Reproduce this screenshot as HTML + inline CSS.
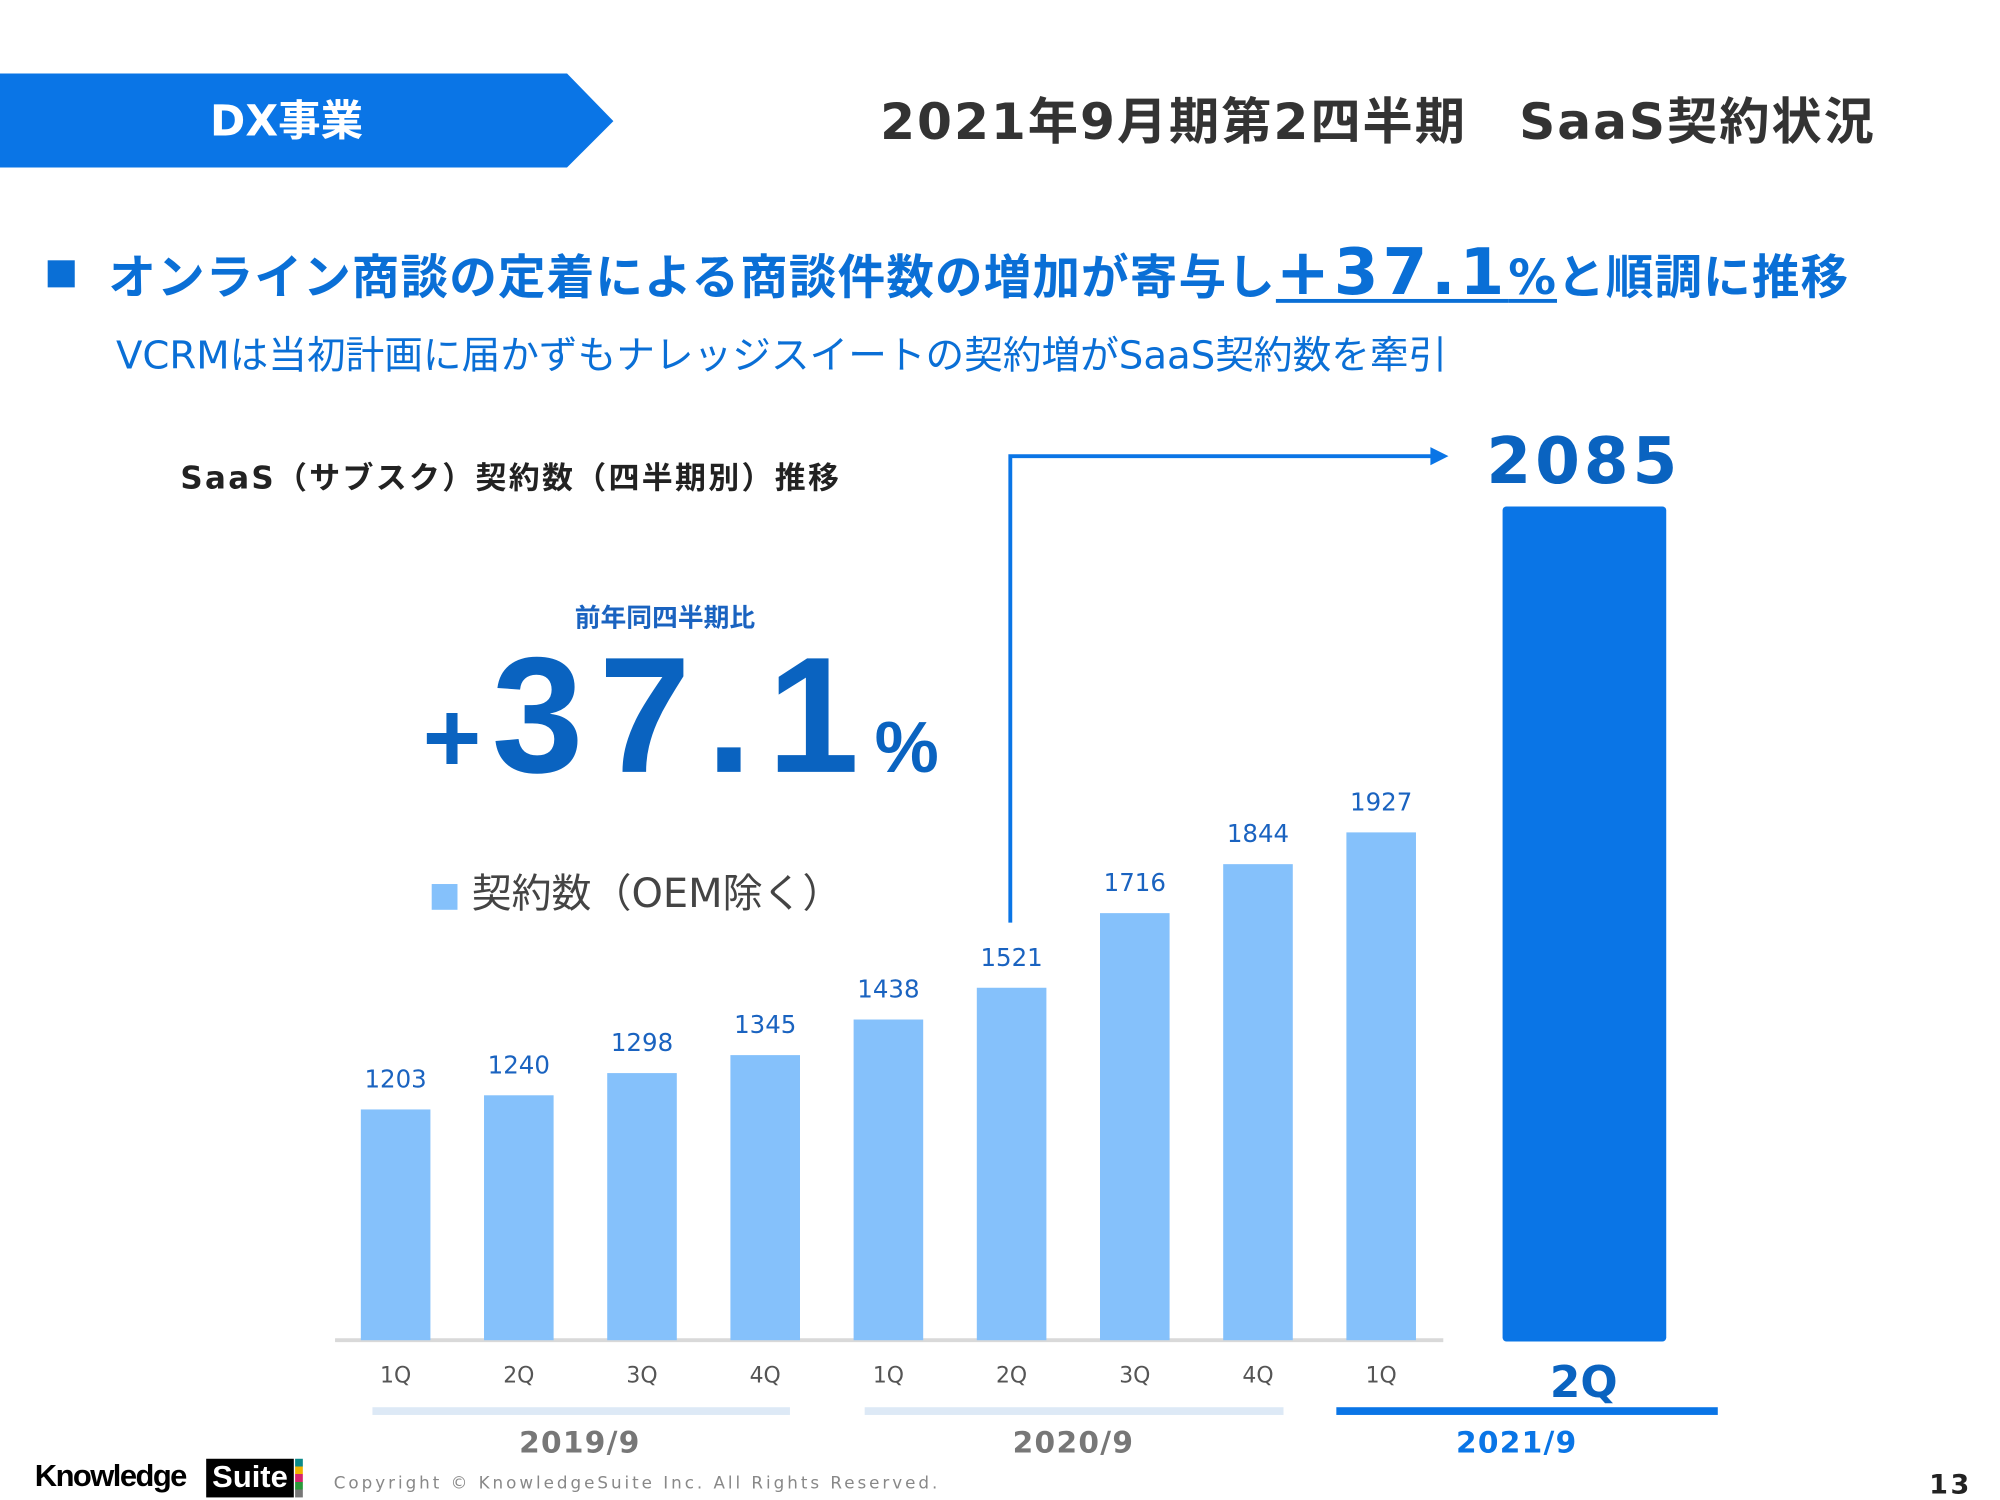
<!DOCTYPE html>
<html><head><meta charset="utf-8">
<style>
html,body{margin:0;padding:0;background:#fff;overflow:hidden}
body{width:2000px;height:1500px}
#s{position:absolute;left:0;top:0;width:1552px;height:1164px;transform:scale(1.28866);transform-origin:0 0;font-family:"DejaVu Sans","Noto Sans CJK JP",sans-serif}
.t{position:absolute;white-space:nowrap;line-height:1}
</style></head><body>
<div id="s">
<svg style="position:absolute;left:0;top:57px" width="480" height="74"><polygon points="0,0 440,0 476,37 440,73 0,73" fill="#0a75e6"/></svg>
<div class="t" style="left:163px;top:77px;font-size:33px;font-weight:bold;color:#fff">DX事業</div>
<div class="t" style="left:683px;top:76px;font-size:39px;font-weight:bold;color:#333;letter-spacing:1.5px">2021年9月期第2四半期　SaaS契約状況</div>
<div style="position:absolute;left:37px;top:202px;width:21px;height:21px;background:#0a6fd6"></div>
<div class="t" style="left:84px;top:186px;font-size:37px;font-weight:bold;color:#0a6fd6;letter-spacing:0.8px">オンライン商談の定着による商談件数の増加が寄与し<span style="text-decoration:underline;text-underline-offset:4px"><span style="font-size:50px;letter-spacing:3px">+37.1</span>%</span>と順調に推移</div>
<div class="t" style="left:90px;top:262px;font-size:30px;color:#0a6fd6">VCRMは当初計画に届かずもナレッジスイートの契約増がSaaS契約数を牽引</div>
<div class="t" style="left:140px;top:359px;font-size:24px;font-weight:bold;color:#222;letter-spacing:1.8px">SaaS（サブスク）契約数（四半期別）推移</div>
<div class="t" style="left:446px;top:469px;font-size:20px;font-weight:bold;color:#1a63c0">前年同四半期比</div>
<div class="t" style="left:328px;top:492px;font-weight:bold;color:#0a63c0;font-family:'Liberation Sans',sans-serif"><span style="font-size:78px;margin-right:8px">+</span><span style="font-size:128px;letter-spacing:12px">37.1</span><span style="font-size:56px">%</span></div>
<div style="position:absolute;left:335px;top:686px;width:20px;height:20px;background:#85c1fb"></div>
<div class="t" style="left:366px;top:679px;font-size:31px;color:#444">契約数（OEM除く）</div>
<svg id="chart" style="position:absolute;left:0;top:0" width="1552" height="1164"></svg>
<div class="t" style="left:27px;top:1134px;font-size:24px;font-weight:bold;color:#000;letter-spacing:-1.2px;font-family:'Liberation Sans',sans-serif">Knowledge</div>
<div class="t" style="left:160px;top:1132px;width:68px;height:30px;background:#000;color:#fff;font-size:24px;font-weight:bold;text-align:center;line-height:30px;font-family:'Liberation Sans',sans-serif">Suite</div>
<div style="position:absolute;left:229px;top:1132px;width:6px;height:30px;background:linear-gradient(#0b8a8a 0 20%,#f0b400 20% 40%,#d6246e 40% 60%,#2a9a3a 60% 80%,#777 80%)"></div>
<div class="t" style="left:259px;top:1145px;font-size:13px;color:#888;letter-spacing:2.3px">Copyright © KnowledgeSuite Inc. All Rights Reserved.</div>
<div class="t" style="left:1497px;top:1142px;font-size:21px;font-weight:bold;color:#222;letter-spacing:2px">13</div>
</div>
<script>
const categories=["1Q","2Q","3Q","4Q","1Q","2Q","3Q","4Q","1Q"];
const values=[1203,1240,1298,1345,1438,1521,1716,1844,1927];
const highlightCategory="2Q";
const highlightValue=2085;
const years=["2019/9","2020/9","2021/9"];
const NS="http://www.w3.org/2000/svg";
const svg=document.getElementById('chart');
const base=1040, vmin=600, k=215/724;
const x=i=>307+i*95.6;
const y=v=>base-(v-vmin)*k;
function mk(t,a,txt){const e=document.createElementNS(NS,t);for(const q in a)e.setAttribute(q,a[q]);if(txt!==undefined)e.textContent=txt;svg.appendChild(e);return e;}
const ax=mk('line',{x1:260,x2:1120,y1:1040,y2:1040,stroke:'#d9d9d9','stroke-width':3});


values.forEach((v,i)=>{
 const r=mk('rect',{x:x(i)-27,y:y(v),width:54,height:base-y(v),fill:'#85c1fb'});
 
 
 const l=mk('text',{x:x(i),y:y(v)-17,'text-anchor':'middle','font-size':19,fill:'#1a63c0'},v);
 
 
 const c=mk('text',{x:x(i),y:1073,'text-anchor':'middle','font-size':17,fill:'#555'},categories[i]);
 
 
});
const hb=mk('rect',{x:1166,y:393,width:127,height:648,rx:3,fill:'#0a75e6'});


const hl=mk('text',{x:1229,y:375,'text-anchor':'middle','font-size':50,'font-weight':'bold',fill:'#0a63c0','letter-spacing':3},highlightValue);


const hc=mk('text',{x:1229,y:1084,'text-anchor':'middle','font-size':34,'font-weight':'bold',fill:'#0a63c0'},highlightCategory);


const ar=mk('path',{d:'M784,716 V354 H1112',fill:'none',stroke:'#0a75e6','stroke-width':3});


const ah=mk('polygon',{points:'1110,347 1124,354 1110,361',fill:'#0a75e6'});


const yb=[[289,613,'#dde9f6','#777',450],[671,996,'#dde9f6','#777',833],[1037,1333,'#0a75e6','#0a75e6',1177]];
years.forEach((yr,i)=>{
 const b=yb[i];
 const u=mk('rect',{x:b[0],y:1092,width:b[1]-b[0],height:6,fill:b[2]});
 
 
 const t=mk('text',{x:b[4],y:1127,'text-anchor':'middle','font-size':23,'font-weight':'bold',fill:b[3],'letter-spacing':1},yr);
 
 
});
svg.querySelectorAll('text').forEach(t=>t.setAttribute('font-family','"DejaVu Sans","Noto Sans CJK JP",sans-serif'));
</script>
</body></html>
